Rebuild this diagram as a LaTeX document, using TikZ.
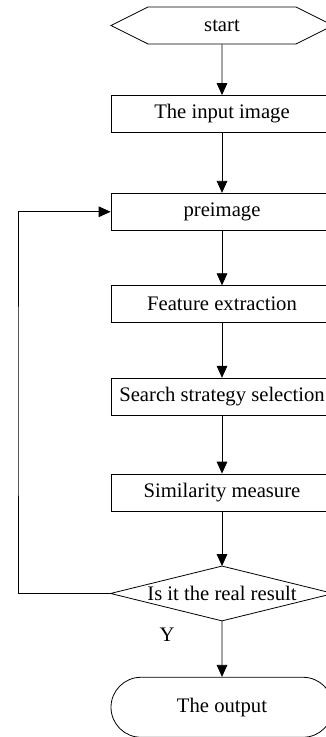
\documentclass[tikz,border=0pt]{standalone}
\usepackage{fontspec}
\setmainfont{Liberation Serif}
\usepackage{tikz}
\usetikzlibrary{positioning,shapes,shapes.misc,shapes.symbols,arrows.meta}
\tikzset{>={Triangle[length=9pt,width=8pt]}}

\begin{document}
\begin{tikzpicture}[
      x=0.75pt,y=-0.75pt,
      node distance=41pt,
      font=\fontsize{15.5}{18}\selectfont,
      line width=0.6pt,
      % define styles
      term/.style={
           draw,
           signal,
           signal to=west and east,
           signal pointer angle=53,
           minimum width=166.5pt,
           minimum height=27.75pt,
           inner sep=0pt
      },
      proc/.style={
           draw,
           rectangle,
           minimum width=166.5pt,
           minimum height=27.75pt,
           inner sep=0pt
      },
      decision/.style={
           minimum width=166.5pt,
           minimum height=40.5pt,
           inner sep=0pt
      },
      stopbox/.style={
           draw,
           rounded rectangle,
           minimum width=166.5pt,
           minimum height=45pt,
           inner sep=0pt
      }
  ]
  \useasboundingbox (0,0) rectangle (325,737);
  % main column
  \node[term] at (222,25.5) (start) {start};
  \node[proc,below=38pt of start] (input) {The input image};
  \node[proc,below=45pt of input] (pre) {preimage};
  \node[proc,below=of pre] (feat) {Feature extraction};
  \node[proc,below=of feat] (search) {Search strategy selection};
  \node[proc,below=43.5pt of search] (simil) {Similarity measure};
  \node[decision,below=of simil] (check) {Is it the real result};
  \draw (check.north) -- (check.east) -- (check.south) -- (check.west) -- cycle;
  \node[stopbox,below=42pt of check] (output) {The output};
  % yes label
  \node at (167,635) (yes) {Y};
  % arrows down the column
  \draw[->] (start) -- (input);
  \draw[->] (input) -- (pre);
  \draw[->] (pre) -- (feat);
  \draw[->] (feat) -- (search);
  \draw[->] (search) -- (simil);
  \draw[->] (simil) -- (check);
  \draw[->] (check) -- (output);
  % loop back to preimage
  \coordinate (back) at (18,400);
  \draw[->] (check.west) -| (back) |- (pre.west);
\end{tikzpicture}
\end{document}
